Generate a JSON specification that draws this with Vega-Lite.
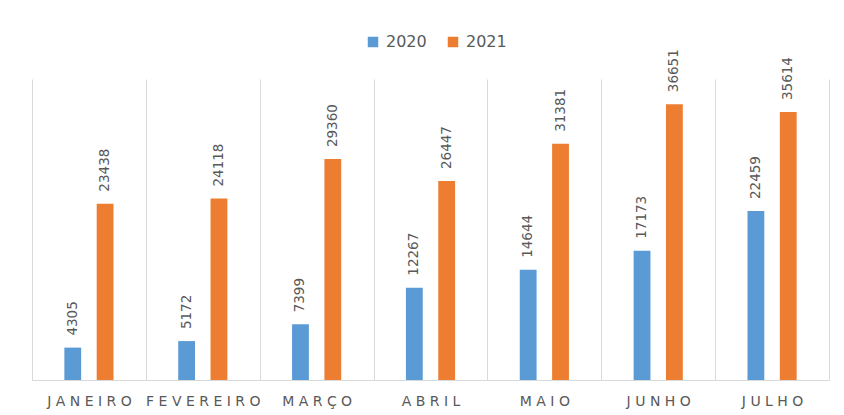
{
  "$schema": "https://vega.github.io/schema/vega-lite/v6.json",
  "width": 797,
  "height": 301,
  "autosize": {"type": "none"},
  "padding": {"left": 32, "top": 79, "right": 15, "bottom": 35},
  "background": "white",
  "config": {
    "view": {"stroke": null},
    "font": "DejaVu Sans"
  },
  "data": {
    "values": [
      {"mes": "JANEIRO", "ano": "2020", "valor": 4305},
      {"mes": "JANEIRO", "ano": "2021", "valor": 23438},
      {"mes": "FEVEREIRO", "ano": "2020", "valor": 5172},
      {"mes": "FEVEREIRO", "ano": "2021", "valor": 24118},
      {"mes": "MARÇO", "ano": "2020", "valor": 7399},
      {"mes": "MARÇO", "ano": "2021", "valor": 29360},
      {"mes": "ABRIL", "ano": "2020", "valor": 12267},
      {"mes": "ABRIL", "ano": "2021", "valor": 26447},
      {"mes": "MAIO", "ano": "2020", "valor": 14644},
      {"mes": "MAIO", "ano": "2021", "valor": 31381},
      {"mes": "JUNHO", "ano": "2020", "valor": 17173},
      {"mes": "JUNHO", "ano": "2021", "valor": 36651},
      {"mes": "JULHO", "ano": "2020", "valor": 22459},
      {"mes": "JULHO", "ano": "2021", "valor": 35614}
    ]
  },
  "encoding": {
    "x": {
      "field": "mes",
      "type": "nominal",
      "sort": ["JANEIRO", "FEVEREIRO", "MARÇO", "ABRIL", "MAIO", "JUNHO", "JULHO"],
      "scale": {"paddingInner": 0, "paddingOuter": 0},
      "axis": {
        "title": null,
        "labelAngle": 0,
        "labelExpr": "join(split(datum.label, ''), ' ')",
        "labelFont": "DejaVu Sans",
        "labelFontSize": 14,
        "labelColor": "#595959",
        "labelPadding": 14,
        "labelBaseline": "top",
        "ticks": false,
        "grid": true,
        "gridColor": "#D9D9D9",
        "gridWidth": 1,
        "tickBand": "extent",
        "domain": true,
        "domainColor": "#D9D9D9",
        "domainWidth": 1
      }
    },
    "xOffset": {
      "field": "ano",
      "type": "nominal",
      "scale": {"paddingInner": 0.48, "paddingOuter": 1.14}
    },
    "y": {
      "field": "valor",
      "type": "quantitative",
      "scale": {"domain": [0, 40000], "nice": false, "zero": true},
      "axis": null
    }
  },
  "layer": [
    {
      "mark": {"type": "bar"},
      "encoding": {
        "color": {
          "field": "ano",
          "type": "nominal",
          "scale": {"domain": ["2020", "2021"], "range": ["#5B9BD5", "#ED7D31"]},
          "legend": {
            "title": null,
            "orient": "none",
            "direction": "horizontal",
            "legendX": 333,
            "legendY": -45,
            "padding": 0,
            "symbolType": "square",
            "symbolSize": 110,
            "symbolStrokeWidth": 0,
            "labelFont": "DejaVu Sans",
            "labelFontSize": 16,
            "labelColor": "#595959",
            "labelOffset": 5,
            "columnPadding": 18
          }
        }
      }
    },
    {
      "mark": {
        "type": "text",
        "angle": 270,
        "align": "left",
        "baseline": "middle",
        "dx": 12,
        "font": "DejaVu Sans",
        "fontSize": 13.5,
        "color": "#595959"
      },
      "encoding": {
        "text": {"field": "valor", "type": "quantitative", "format": "d"}
      }
    }
  ]
}
